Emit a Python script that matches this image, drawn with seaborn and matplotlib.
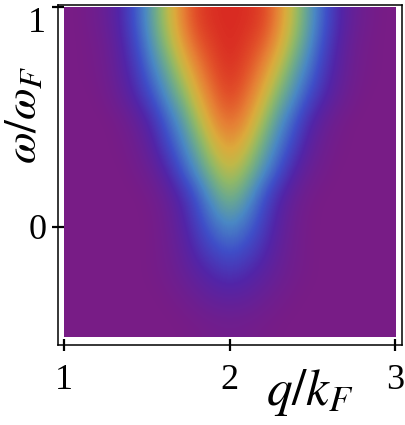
import matplotlib
matplotlib.use("Agg")
import matplotlib.pyplot as plt
import seaborn as sns
import numpy as np
from matplotlib.colors import LinearSegmentedColormap

# wave number axis (columns) and energy axis (rows, top to bottom)
q_values = [1.0, 1.1, 1.2, 1.3, 1.4, 1.5, 1.6, 1.7, 1.8, 1.9, 2.0,
            2.1, 2.2, 2.3, 2.4, 2.5, 2.6, 2.7, 2.8, 2.9, 3.0]
omega_values = [1.0, 0.875, 0.75, 0.625, 0.5, 0.375, 0.25,
                0.125, 0.0, -0.125, -0.25, -0.375, -0.5]

# intensity, one row per omega value
row_w100 = [0.00, 0.02, 0.06, 0.15, 0.30, 0.46, 0.64, 0.82, 0.95, 0.99, 1.00, 0.99, 0.95, 0.82, 0.64, 0.46, 0.30, 0.15, 0.06, 0.02, 0.00]
row_w088 = [0.00, 0.01, 0.04, 0.12, 0.26, 0.42, 0.58, 0.76, 0.89, 0.96, 1.00, 0.96, 0.89, 0.76, 0.58, 0.42, 0.26, 0.12, 0.04, 0.01, 0.00]
row_w075 = [0.00, 0.01, 0.03, 0.10, 0.21, 0.36, 0.49, 0.66, 0.81, 0.92, 0.98, 0.92, 0.81, 0.66, 0.49, 0.36, 0.21, 0.10, 0.03, 0.01, 0.00]
row_w063 = [0.00, 0.00, 0.02, 0.07, 0.16, 0.28, 0.42, 0.55, 0.73, 0.86, 0.94, 0.86, 0.73, 0.55, 0.42, 0.28, 0.16, 0.07, 0.02, 0.00, 0.00]
row_w050 = [0.00, 0.00, 0.00, 0.02, 0.07, 0.17, 0.32, 0.45, 0.62, 0.79, 0.86, 0.79, 0.62, 0.45, 0.32, 0.17, 0.07, 0.02, 0.00, 0.00, 0.00]
row_w038 = [0.00, 0.00, 0.00, 0.01, 0.04, 0.11, 0.25, 0.38, 0.52, 0.68, 0.77, 0.68, 0.52, 0.38, 0.25, 0.11, 0.04, 0.01, 0.00, 0.00, 0.00]
row_w025 = [0.00, 0.00, 0.00, 0.00, 0.02, 0.06, 0.15, 0.30, 0.43, 0.57, 0.66, 0.57, 0.43, 0.30, 0.15, 0.06, 0.02, 0.00, 0.00, 0.00, 0.00]
row_w013 = [0.00, 0.00, 0.00, 0.00, 0.00, 0.02, 0.07, 0.17, 0.31, 0.45, 0.54, 0.45, 0.31, 0.17, 0.07, 0.02, 0.00, 0.00, 0.00, 0.00, 0.00]
row_w000 = [0.00, 0.00, 0.00, 0.00, 0.00, 0.01, 0.05, 0.13, 0.25, 0.36, 0.42, 0.36, 0.25, 0.13, 0.05, 0.01, 0.00, 0.00, 0.00, 0.00, 0.00]
row_m013 = [0.00, 0.00, 0.00, 0.00, 0.00, 0.01, 0.04, 0.10, 0.19, 0.27, 0.31, 0.27, 0.19, 0.10, 0.04, 0.01, 0.00, 0.00, 0.00, 0.00, 0.00]
row_m025 = [0.00, 0.00, 0.00, 0.00, 0.00, 0.01, 0.03, 0.07, 0.12, 0.17, 0.20, 0.17, 0.12, 0.07, 0.03, 0.01, 0.00, 0.00, 0.00, 0.00, 0.00]
row_m038 = [0.00, 0.00, 0.00, 0.00, 0.00, 0.00, 0.01, 0.03, 0.06, 0.09, 0.10, 0.09, 0.06, 0.03, 0.01, 0.00, 0.00, 0.00, 0.00, 0.00, 0.00]
row_m050 = [0.00, 0.00, 0.00, 0.00, 0.00, 0.00, 0.00, 0.005, 0.015, 0.025, 0.03, 0.025, 0.015, 0.005, 0.00, 0.00, 0.00, 0.00, 0.00, 0.00, 0.00]

intensity = np.array([row_w100, row_w088, row_w075, row_w063, row_w050, row_w038, row_w025,
                      row_w013, row_w000, row_m013, row_m025, row_m038, row_m050])

sns.set_style("ticks")
plt.rcParams["font.family"] = ["Liberation Serif", "DejaVu Serif"]
plt.rcParams["mathtext.fontset"] = "stix"

# Mathematica-like "Rainbow" gradient
rainbow = LinearSegmentedColormap.from_list("rainbow_mma", [
    (0.00, "#781c86"),
    (0.15, "#5225a8"),
    (0.28, "#3f4ec8"),
    (0.40, "#4a88c4"),
    (0.50, "#6aa890"),
    (0.58, "#90b868"),
    (0.66, "#c0b848"),
    (0.73, "#dcaa3c"),
    (0.82, "#e68035"),
    (0.91, "#e2522a"),
    (1.00, "#d92a22"),
])

fig = plt.figure(figsize=(4.06, 4.25), dpi=100)
ax = fig.add_axes([58 / 406, 80 / 425, 344 / 406, 340 / 425])
ax.set_facecolor("white")

ax.imshow(intensity, cmap=rainbow, vmin=0, vmax=1,
          extent=[q_values[0], q_values[-1], omega_values[-1], omega_values[0]],
          aspect="auto", interpolation="bicubic", interpolation_stage="data")

ax.set_xlim(0.964, 3.042)
ax.set_ylim(-0.538, 1.011)
ax.set_xticks([1, 2, 3])
ax.set_yticks([0, 1])
ax.tick_params(direction="inout", length=9, width=1.6, labelsize=26, colors="black")
ax.tick_params(axis="x", pad=9)
ax.tick_params(axis="y", pad=4)
for s in ax.spines.values():
    s.set_color("black")
    s.set_linewidth(1.1)

ax.yaxis.get_major_ticks()[1].label1.set_verticalalignment("top")

ax.set_xlabel(r"$q/k_F$", fontsize=37, va="baseline", color="black")
ax.xaxis.set_label_coords(0.733, -0.176)
ax.set_ylabel(r"$\omega/\omega_F$", fontsize=33, va="baseline", color="black")
ax.yaxis.set_label_coords(-0.063, 0.676)

plt.savefig("out.png", dpi=100)
